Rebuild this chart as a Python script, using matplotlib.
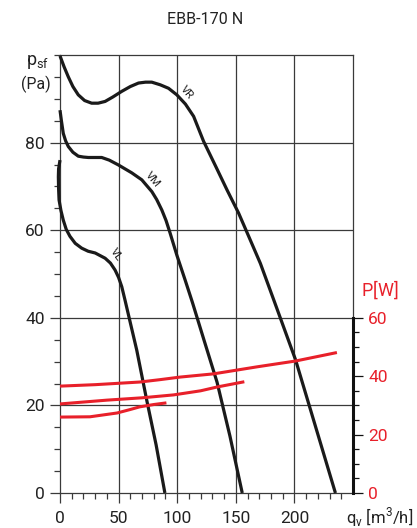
import matplotlib
matplotlib.use("Agg")
import matplotlib.pyplot as plt
from matplotlib.ticker import MultipleLocator

plt.rcParams['font.family'] = ['Roboto', 'DejaVu Sans']

# pressure curves (q [m3/h], p [Pa])
vr_q = [0, 3.5, 7.1, 11, 15.6, 21, 27, 32.5, 38.5, 45, 52.7, 60, 67, 73, 78.3, 85.5, 92.6, 99.7,
        107, 114, 122.5, 133, 142.5, 152.4, 161, 171, 182.5, 201, 218, 235]
vr_p = [99.8, 97.3, 95, 92.8, 90.9, 89.6, 89, 89, 89.4, 90.4, 91.7, 92.8, 93.6, 93.8, 93.8, 93.2, 92.4, 90.9,
        88.8, 86, 80.3, 74.5, 69.2, 63.9, 58.6, 52.4, 44, 30.4, 15.2, 0]
vm_q = [0, 1.2, 2.8, 4.8, 7.1, 11, 15.6, 20, 24.2, 30, 35.6, 42, 49.8, 55.5, 61.2, 69.8, 78.4, 82.5,
        86.9, 90.5, 94, 99.7, 106.8, 113, 123, 134, 145, 155.5]
vm_p = [87.4, 85, 82.1, 80.4, 79.1, 77.8, 76.9, 76.7, 76.6, 76.6, 76.6, 76, 74.9, 74, 73.1, 71.5, 68.8, 67,
        64.6, 62.2, 59.3, 54.3, 48.6, 43.5, 34.8, 25.3, 13, 0]
vl_q = [0, -1.2, -1.4, -1.2, -0.8, 0.8, 2.8, 5.3, 8.5, 13, 18.5, 24, 30, 38.5, 43, 47, 50, 52.7,
        55.5, 65.5, 74, 82, 89.5]
vl_p = [76, 74, 72.2, 69.5, 66.9, 64.5, 62.3, 60.2, 58.6, 57, 55.9, 55.2, 54.8, 53.6, 52.5, 50.9, 49.2, 47.1,
        44, 32.6, 21.2, 11, 0]

# power curves (q [m3/h], P [W])
pr_q = [0, 30, 68, 85, 102.5, 131, 168, 201, 235]
pr_w = [36.6, 37.1, 38, 38.8, 39.7, 40.8, 43.2, 45.2, 48]
pm_q = [0, 40, 70, 97, 120, 134, 156]
pm_w = [30.5, 31.8, 32.6, 33.6, 35, 36.3, 38]
pl_q = [0, 25.6, 48.7, 60, 68, 80, 89.5]
pl_w = [26, 26.1, 27.4, 28.6, 29.5, 30.3, 30.8]

x_major = [0, 50, 100, 150, 200]
y_major = [0, 20, 40, 60, 80]
w_major = [0, 20, 40, 60]

fig = plt.figure(figsize=(4.17, 5.28), dpi=100)
ax = fig.add_axes([60/417, 35/528, 293/417, 438/528])
ax.set_xlim(0, 250)
ax.set_ylim(0, 100)

grid_c = '#3a3a3a'
for v in [50, 100, 150, 200]:
    ax.axvline(v, color=grid_c, lw=0.9, zorder=1)
for v in [20, 40, 60, 80]:
    ax.axhline(v, color=grid_c, lw=0.9, zorder=1)

for s in ['top', 'right', 'left', 'bottom']:
    ax.spines[s].set_color(grid_c)
    ax.spines[s].set_linewidth(0.9)

ax.set_xticks(x_major)
ax.set_yticks(y_major)
ax.yaxis.set_minor_locator(MultipleLocator(5))
ax.set_xticks([m for m in range(10, 250, 10) if m % 50 != 0], minor=True)
ax.tick_params(axis='both', which='major', direction='out', length=7, width=0.9,
               color=grid_c, labelsize=12.5, labelcolor='#222222')
ax.tick_params(axis='both', which='minor', direction='out', length=4, width=0.9, color=grid_c)
ax.tick_params(axis='x', pad=6)
ax.tick_params(axis='y', pad=4)

for q, p in [(vr_q, vr_p), (vm_q, vm_p), (vl_q, vl_p)]:
    ax.plot(q, p, color='#1a1a1a', lw=2.3, zorder=3, solid_capstyle='butt',
            solid_joinstyle='round', clip_on=False)

ax.text(108, 91.5, 'VR', rotation=-50, fontsize=8, ha='center', va='center', color='#222222')
ax.text(79, 71.5, 'VM', rotation=-50, fontsize=8, ha='center', va='center', color='#222222')
ax.text(48, 54.5, 'VL', rotation=-55, fontsize=8, ha='center', va='center', color='#222222')

ax2 = ax.twinx()
ax2.set_ylim(0, 150)
ax2.set_xlim(0, 250)
for s in ['top', 'left', 'bottom']:
    ax2.spines[s].set_visible(False)
ax2.spines['right'].set_bounds(0, 60)
ax2.spines['right'].set_linewidth(2.2)
ax2.spines['right'].set_color('#111111')
ax2.set_yticks(w_major)
ax2.set_yticks([m for m in range(5, 60, 5) if m % 20 != 0], minor=True)
ax2.tick_params(axis='y', which='major', direction='out', length=7, width=0.9,
                color='#111111', labelsize=12.5, labelcolor='#e8202a', pad=4)
ax2.tick_params(axis='y', which='minor', direction='out', length=4, width=0.9, color='#111111')

red = '#e8202a'
for q, w in [(pr_q, pr_w), (pm_q, pm_w), (pl_q, pl_w)]:
    ax2.plot(q, w, color=red, lw=2.2, zorder=4, solid_joinstyle='round')

fig.text(205/417, 1 - 20/528, 'EBB-170 N', ha='center', va='center', fontsize=11.5, color='#222222')
fig.text(38/417, 1 - 62/528, r'p$_{\mathregular{sf}}$', ha='center', va='center', fontsize=13, color='#222222')
fig.text(36/417, 1 - 84/528, '(Pa)', ha='center', va='center', fontsize=11.5, color='#222222')
fig.text(380/417, 1 - 290/528, r'P$\mathregular{[W]}$', ha='center', va='center', fontsize=13, color=red)
fig.text(380/417, 1 - 517/528, r'q$_{\mathregular{v}}$ [m$^{\mathregular{3}}$/h]', ha='center', va='center',
         fontsize=12, color='#222222')

fig.savefig('out.png', dpi=100)
